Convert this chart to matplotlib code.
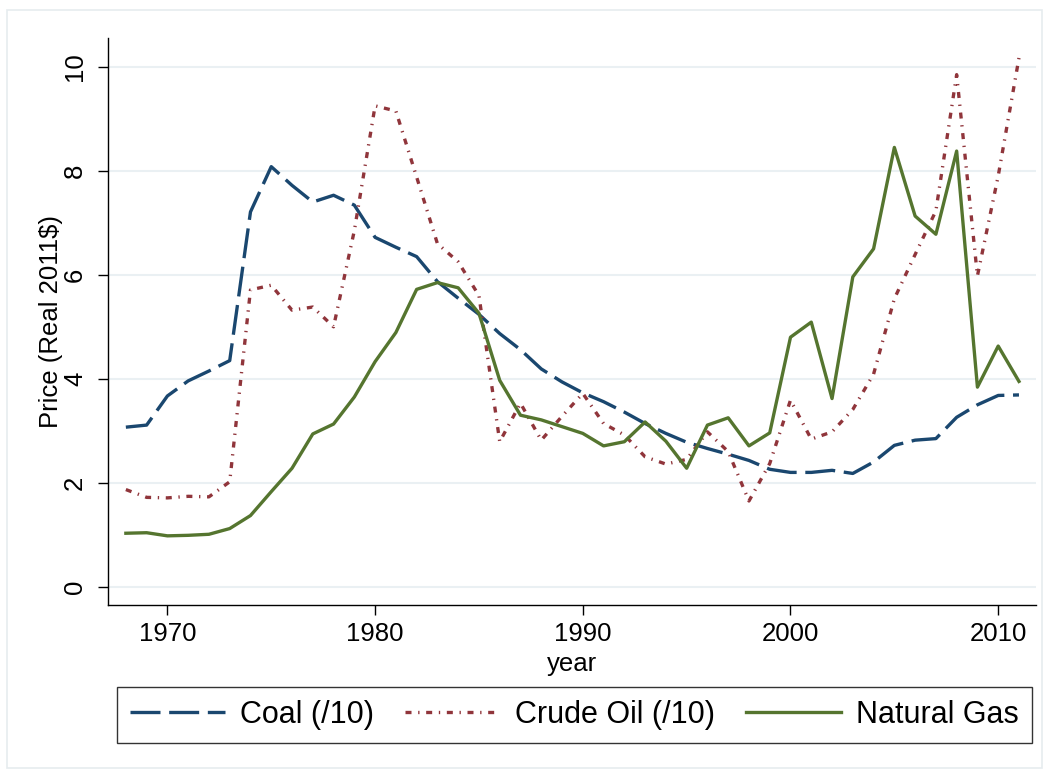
import matplotlib
matplotlib.use("Agg")
import matplotlib.pyplot as plt
from matplotlib.patches import Rectangle

plt.rcParams['font.family'] = ['Liberation Sans', 'DejaVu Sans']

years = list(range(1968, 2012))

coal = [3.07, 3.11, 3.67, 3.96, 4.15, 4.35, 7.21, 8.08, 7.72, 7.40,
        7.53, 7.34, 6.72, 6.53, 6.35, 5.87, 5.55, 5.24, 4.87, 4.56,
        4.19, 3.94, 3.73, 3.56, 3.36, 3.14, 2.95, 2.78, 2.66, 2.55,
        2.43, 2.26, 2.20, 2.20, 2.24, 2.18, 2.40, 2.72, 2.82, 2.85,
        3.26, 3.50, 3.68, 3.69]

crude_oil = [1.87, 1.72, 1.71, 1.74, 1.73, 2.02, 5.71, 5.80, 5.32, 5.38,
             5.00, 6.85, 9.25, 9.15, 7.88, 6.60, 6.25, 5.60, 2.79, 3.53,
             2.82, 3.28, 3.72, 3.14, 2.92, 2.50, 2.36, 2.45, 2.98, 2.60,
             1.65, 2.37, 3.59, 2.84, 2.98, 3.41, 4.09, 5.54, 6.39, 7.23,
             9.85, 5.98, 7.90, 10.17]

natural_gas = [1.03, 1.04, 0.98, 0.99, 1.01, 1.12, 1.37, 1.83, 2.28, 2.94,
               3.13, 3.65, 4.33, 4.89, 5.72, 5.85, 5.75, 5.26, 3.97, 3.30,
               3.21, 3.08, 2.95, 2.71, 2.79, 3.17, 2.80, 2.28, 3.11, 3.25,
               2.71, 2.96, 4.80, 5.09, 3.62, 5.96, 6.50, 8.45, 7.13, 6.78,
               8.38, 3.84, 4.63, 3.95]

labels = ['Coal (/10)', 'Crude Oil (/10)', 'Natural Gas']
colors = ['#1a476f', '#90353b', '#55752f']

fig = plt.figure(figsize=(10.49, 7.74), dpi=100)
# light outer frame (graph region)
fig.patches.append(Rectangle((7 / 1049, 6 / 774), 1035 / 1049, 758 / 774,
                             transform=fig.transFigure, fill=False,
                             edgecolor='#e6ecef', linewidth=1.2))

ax = fig.add_axes([108 / 1049, (774 - 605) / 774, 928 / 1049, (605 - 37.7) / 774])

lw = 2.4
ax.plot(years, coal, color=colors[0], lw=lw, dashes=(9, 2.6), label=labels[0])
ax.plot(years, crude_oil, color=colors[1], lw=lw, dashes=(1.8, 2.0, 0.4, 2.0), label=labels[1])
ax.plot(years, natural_gas, color=colors[2], lw=lw, label=labels[2])

ax.set_xlim(1967.14, 2011.82)
ax.set_ylim(-0.35, 10.56)
ax.set_xticks([1970, 1980, 1990, 2000, 2010])
ax.set_yticks([0, 2, 4, 6, 8, 10])
for t in ax.get_yticklabels():
    t.set_rotation(90)
    t.set_va('center')

ax.yaxis.grid(True, color='#eaf0f3', linewidth=1.5)
ax.set_axisbelow(True)
for s in ['top', 'right']:
    ax.spines[s].set_visible(False)
for s in ['left', 'bottom']:
    ax.spines[s].set_linewidth(1.0)

ax.tick_params(axis='both', length=7.2, width=1.0, labelsize=18.5)
ax.tick_params(axis='y', pad=8)
ax.tick_params(axis='x', pad=5)

ax.set_ylabel('Price (Real 2011$)', fontsize=18.5, labelpad=0)
ax.set_xlabel('year', fontsize=18.5, labelpad=4)

leg = fig.legend(loc='lower left', ncol=3, mode='expand',
                 bbox_to_anchor=(117 / 1049, 31 / 774, 915 / 1049, 54 / 774),
                 borderaxespad=0, fontsize=22, frameon=True, fancybox=False,
                 handlelength=3.1, handletextpad=0.5, borderpad=0.42)
leg.get_frame().set_edgecolor('black')
leg.get_frame().set_linewidth(1.0)

fig.savefig('out.png', dpi=100)
